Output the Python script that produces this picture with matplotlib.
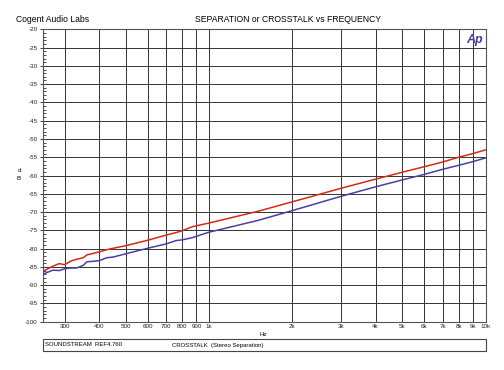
import matplotlib
matplotlib.use("Agg")
import matplotlib.pyplot as plt
from matplotlib.patches import Rectangle
from matplotlib.ticker import FixedLocator, MultipleLocator, NullFormatter

# sweep frequencies (Hz) and the two crosstalk channels (dB)
freq = [250, 260, 272, 287, 300, 316, 332, 350, 362, 377, 400, 426, 450, 500,
        600, 700, 760, 800, 870, 1000, 1500, 2000, 3000, 4000, 5000, 6000,
        7000, 8000, 9000, 10000]
red_db = [-86.2, -85.6, -84.8, -84.1, -84.4, -83.4, -82.9, -82.5, -81.7, -81.4,
          -80.9, -80.3, -79.9, -79.2, -77.7, -76.3, -75.6, -75.1, -74.0, -73.0,
          -69.8, -67.2, -63.5, -61.0, -59.1, -57.6, -56.3, -55.0, -54.0, -53.0]
blue_db = [-87.0, -86.5, -85.9, -86.0, -85.5, -85.3, -85.3, -84.6, -83.6, -83.5,
           -83.3, -82.5, -82.3, -81.4, -79.9, -78.7, -77.8, -77.6, -77.0, -75.5,
           -72.3, -69.6, -65.7, -63.1, -61.2, -59.7, -58.3, -57.2, -56.2, -55.2]

x_ticks = [300, 400, 500, 600, 700, 800, 900, 1000, 2000, 3000, 4000, 5000,
           6000, 7000, 8000, 9000, 10000]
x_labels = ["300", "400", "500", "600", "700", "800", "900", "1k", "2k", "3k",
            "4k", "5k", "6k", "7k", "8k", "9k", "10k"]
y_ticks = list(range(-20, -101, -5))

plt.rcParams['font.family'] = ['Liberation Sans', 'DejaVu Sans']

fig = plt.figure(figsize=(5.04, 3.70), dpi=100)
ax = fig.add_axes([0.0847, 0.1305, 0.8786, 0.7903])

ax.plot(freq, red_db, color='#d42a1a', lw=1.1)
ax.plot(freq, blue_db, color='#4b3fa0', lw=1.1)

ax.set_xscale('log')
ax.set_xlim(250, 10000)
ax.set_ylim(-100, -20)
ax.xaxis.set_major_locator(FixedLocator(x_ticks))
ax.set_xticklabels(x_labels)
ax.xaxis.set_minor_locator(FixedLocator([]))
ax.xaxis.set_minor_formatter(NullFormatter())
ax.set_yticks(y_ticks)
ax.set_yticklabels([str(v) for v in y_ticks])
ax.yaxis.set_minor_locator(MultipleLocator(1))

ax.grid(True, which='major', color='#333333', lw=0.7)
ax.tick_params(axis='both', which='major', labelsize=4.5, length=2, width=0.6,
               pad=1.5, colors='#222222')
ax.tick_params(axis='x', which='major', length=0)
ax.tick_params(axis='y', which='minor', direction='in', length=2, width=0.5,
               right=False)
for s in ax.spines.values():
    s.set_color('#555555')
    s.set_linewidth(0.8)

fig.text(16 / 504, 1 - 20 / 370, "Cogent Audio Labs", fontsize=6.2, va='center')
fig.text(288 / 504, 1 - 20 / 370, "SEPARATION or CROSSTALK vs FREQUENCY",
         fontsize=6.2, va='center', ha='center')
ax.text(0.995, 0.985, "Ap", transform=ax.transAxes, ha='right', va='top',
        fontsize=9, fontweight='bold', fontstyle='italic', color='#3f3f9a')

fig.text(263 / 504, 1 - 334 / 370, "Hz", fontsize=4.5, ha='center', va='center')
fig.text(19 / 504, 1 - 171 / 370, "d", fontsize=4.5, ha='center', va='center')
fig.text(19 / 504, 1 - 178 / 370, "B", fontsize=4.5, ha='center', va='center')

# info box under the plot
box = Rectangle((43 / 504, 1 - 351 / 370), 443 / 504, 12 / 370,
                transform=fig.transFigure, fill=False, ec='#444444', lw=0.8)
fig.patches.append(box)
fig.text(45 / 504, 1 - 345 / 370, "SOUNDSTREAM  REF4.760", fontsize=4.3, va='center')
fig.text(172 / 504, 1 - 345 / 370, "CROSSTALK  (Stereo Separation)", fontsize=4.3,
         va='center')

fig.savefig('out.png', dpi=100)
